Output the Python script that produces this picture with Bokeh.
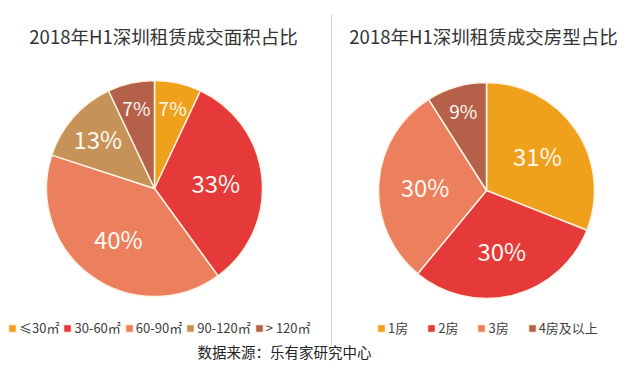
import numpy as np
from bokeh.plotting import figure
from bokeh.models import Range1d, ColumnDataSource, Legend, LegendItem
from bokeh.core.properties import value
from bokeh.embed import file_html
from bokeh.resources import INLINE

# ---------------- data ----------------
title_left = "2018年H1深圳租赁成交面积占比"
title_right = "2018年H1深圳租赁成交房型占比"
area_labels = ["≤30㎡", "30-60㎡", "60-90㎡", "90-120㎡", "> 120㎡"]
area_share = [7, 33, 40, 13, 7]
room_labels = ["1房", "2房", "3房", "4房及以上"]
room_share = [31, 30, 30, 9]
source_note = "数据来源：乐有家研究中心"

# ---------------- style ----------------
area_colors = ["#F0A11C", "#E5393A", "#EC7F5E", "#C69258", "#B5614A"]
room_colors = ["#F0A11C", "#E5393A", "#EC7F5E", "#B5614A"]
FONT = "Noto Sans CJK SC"
CJK = value(FONT)

W, H = 623, 364
p = figure(width=W, height=H, output_backend="svg", toolbar_location=None,
           x_range=Range1d(0, W), y_range=Range1d(380 - H, 380),
           min_border=0, min_border_left=0, min_border_right=0,
           min_border_top=0, min_border_bottom=0)
p.axis.visible = False
p.grid.visible = False
p.outline_line_color = None
p.background_fill_color = "white"


def Y(py):
    return 380 - py


def pie(cx, cy, r, shares, colors, labels):
    frac = np.array(shares, dtype=float) / sum(shares)
    cum = np.concatenate([[0.0], np.cumsum(frac)])
    start = np.pi / 2 - cum[:-1] * 2 * np.pi
    end = np.pi / 2 - cum[1:] * 2 * np.pi
    mid = (start + end) / 2
    lr = np.where(frac >= 0.2, 0.57, np.where(frac >= 0.1, 0.70, 0.77)) * r
    src = ColumnDataSource(dict(
        start=start, end=end, color=colors, label=labels,
        pct=[f"{s}%" for s in shares],
        lx=cx + lr * np.cos(mid), ly=cy + lr * np.sin(mid),
        fs=["24px" if f >= 0.1 else "19px" for f in frac],
    ))
    rend = p.wedge(x=cx, y=cy, radius=r, start_angle="start", end_angle="end",
                   direction="clock", fill_color="color", line_color="#FFF4E4",
                   line_width=1.5, source=src)
    p.text(x="lx", y="ly", text="pct", source=src, text_color="#FFFAF2",
           text_font=CJK, text_font_size="fs", text_align="center",
           text_baseline="middle")
    return rend


r_area = pie(154, Y(188), 108, area_share, area_colors, area_labels)
r_room = pie(486, Y(190), 108, room_share, room_colors, room_labels)

# titles
p.text(x=[163, 483], y=[Y(35), Y(35)], text=[title_left, title_right],
       text_font=CJK, text_font_size="18.5px", text_color="#333333",
       text_align="center", text_baseline="middle")

# divider
p.segment(x0=[331], y0=[Y(14)], x1=[331], y1=[Y(345)],
          line_color="#CFCFCF", line_width=1)

# source note
p.text(x=[284], y=[Y(351)], text=[source_note], text_font=CJK,
       text_font_size="14.5px", text_color="#222222", text_align="center",
       text_baseline="middle")


def make_legend(rend, labels, loc, spacing):
    lg = Legend(items=[LegendItem(label=l, renderers=[rend], index=i)
                       for i, l in enumerate(labels)],
                orientation="horizontal", location=loc,
                glyph_width=10, glyph_height=10, label_standoff=2,
                spacing=spacing, padding=0, margin=0,
                border_line_color=None, background_fill_alpha=0,
                label_text_font=FONT, label_text_font_size="13px",
                label_text_color="#404040", label_height=14)
    p.add_layout(lg, "center")


make_legend(r_area, area_labels, (7, 27), 3)
make_legend(r_room, room_labels, (376, 27), 18)

open("out.html", "w").write(file_html(p, INLINE))
